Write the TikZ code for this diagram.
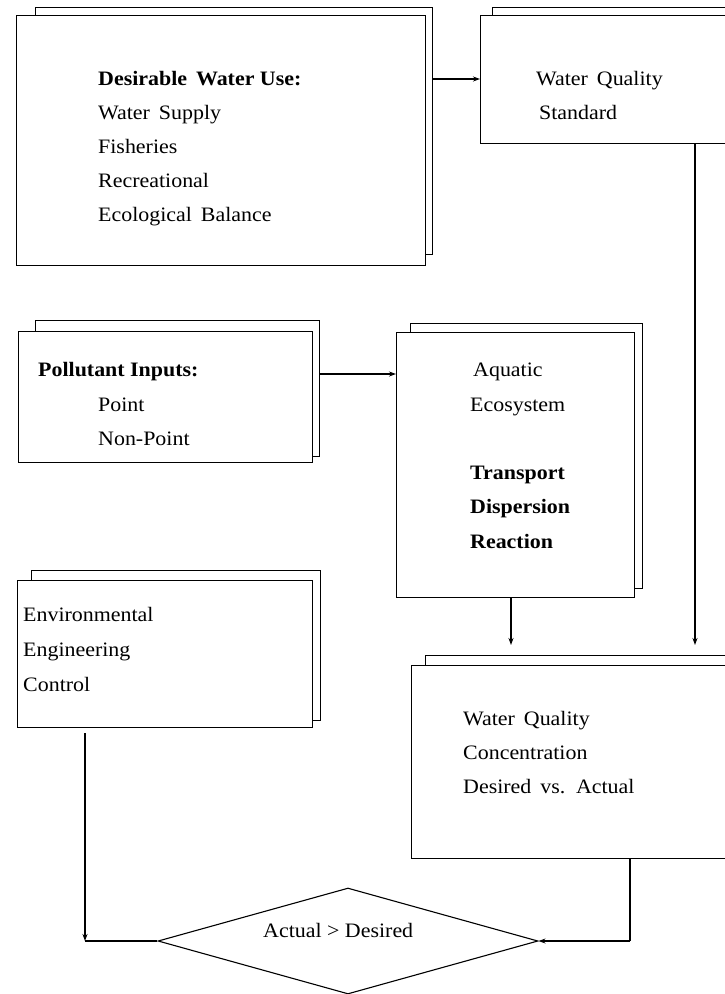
\documentclass[tikz,border=0pt]{standalone}
\usepackage{fontspec}
\setmainfont{Liberation Serif}[FakeStretch=1.07]
\usetikzlibrary{arrows.meta,shapes.geometric}
\tikzset{
  frontbox/.style={draw,fill=white,line width=1.1pt,inner sep=0pt,anchor=north west},
  backbox/.style={draw,fill=white,line width=1.1pt,inner sep=0pt,anchor=north west},
  conn/.style={line width=1.1pt},
  arr/.style={line width=1.1pt,-{Stealth[length=7pt,width=5pt]}},
  txt/.style={anchor=base west,inner sep=0pt,font=\fontsize{20.5}{24}\selectfont},
  btxt/.style={txt,font=\fontsize{20.5}{24}\selectfont\bfseries},
}
\begin{document}
\begin{tikzpicture}[x=1pt,y=-1pt]
\useasboundingbox (0,0) rectangle (725,994);
\clip (0,0) rectangle (725,994);
% Desirable water use
\node[backbox,minimum width=397pt,minimum height=247pt] (dwuB) at (35,7) {};
\node[frontbox,minimum width=409pt,minimum height=250pt] (dwu) at (16,15) {};
% Water quality standard
\node[backbox,minimum width=260pt,minimum height=128pt] (wqsB) at (492,7) {};
\node[frontbox,minimum width=262pt,minimum height=128pt] (wqs) at (480,15) {};
% Pollutant inputs
\node[backbox,minimum width=284pt,minimum height=136pt] (polB) at (35,320) {};
\node[frontbox,minimum width=294pt,minimum height=131pt] (pol) at (18,331) {};
% Aquatic ecosystem
\node[backbox,minimum width=232pt,minimum height=265pt] (aquB) at (410,323) {};
\node[frontbox,minimum width=238pt,minimum height=265pt] (aqu) at (396,332) {};
% Environmental engineering control
\node[backbox,minimum width=289pt,minimum height=150pt] (envB) at (31,570) {};
\node[frontbox,minimum width=295pt,minimum height=147pt] (env) at (17,580) {};
% Water quality concentration
\node[backbox,minimum width=330pt,minimum height=195pt] (wqcB) at (425,655) {};
\node[frontbox,minimum width=330pt,minimum height=193pt] (wqc) at (411,665) {};
% Decision
\node[draw,diamond,line width=1.1pt,inner sep=0pt,minimum width=380pt,minimum height=106pt] (dec) at (348,941) {};

% texts
\node[btxt] (t1) at (98,85) {Desirable\, Water Use:};
\node[txt] (t2) at (98,119) {Water\, Supply};
\node[txt] (t3) at (98,153) {Fisheries};
\node[txt] (t4) at (98,187) {Recreational};
\node[txt] (t5) at (98,221) {Ecological\, Balance};

\node[txt] (s1) at (536,85) {Water\, Quality};
\node[txt] (s2) at (539,119) {Standard};

\node[btxt] (p1) at (38,376) {Pollutant Inputs:};
\node[txt] (p2) at (98,411) {Point};
\node[txt] (p3) at (98,445) {Non-Point};

\node[txt] (a1) at (473,376) {Aquatic};
\node[txt] (a2) at (470,411) {Ecosystem};
\node[btxt] (a3) at (470,479) {Transport};
\node[btxt] (a4) at (470,513) {Dispersion};
\node[btxt] (a5) at (470,548) {Reaction};

\node[txt] (e1) at (23,621) {Environmental};
\node[txt] (e2) at (23,656) {Engineering};
\node[txt] (e3) at (23,691) {Control};

\node[txt] (c1) at (463,725) {Water\, Quality};
\node[txt] (c2) at (463,759) {Concentration};
\node[txt] (c3) at (463,793) {Desired\, vs.\, Actual};

\node[txt] (d1) at (263,937) {Actual > Desired};

% connectors
\coordinate (r1) at (0,79);
\coordinate (r2) at (0,374);
\coordinate (tipA) at (695,645);
\coordinate (tipB) at (511,645);
\coordinate (envTop) at (85,733);
\coordinate (corner) at (85,941);
\coordinate (qcorner) at (630,941);
\draw[arr] (dwuB.east |- r1) -- (wqs.west |- r1);
\draw[arr] (polB.east |- r2) -- (aqu.west |- r2);
\draw[arr] (wqs.south -| tipA) -- (tipA);
\draw[arr] (aqu.south -| tipB) -- (tipB);
\draw[arr] (envTop) -- (corner);
\draw[conn] (corner) -- (dec.west);
\draw[conn] (wqc.south -| qcorner) -- (qcorner);
\draw[arr] (qcorner) -- (dec.east);
\end{tikzpicture}
\end{document}
